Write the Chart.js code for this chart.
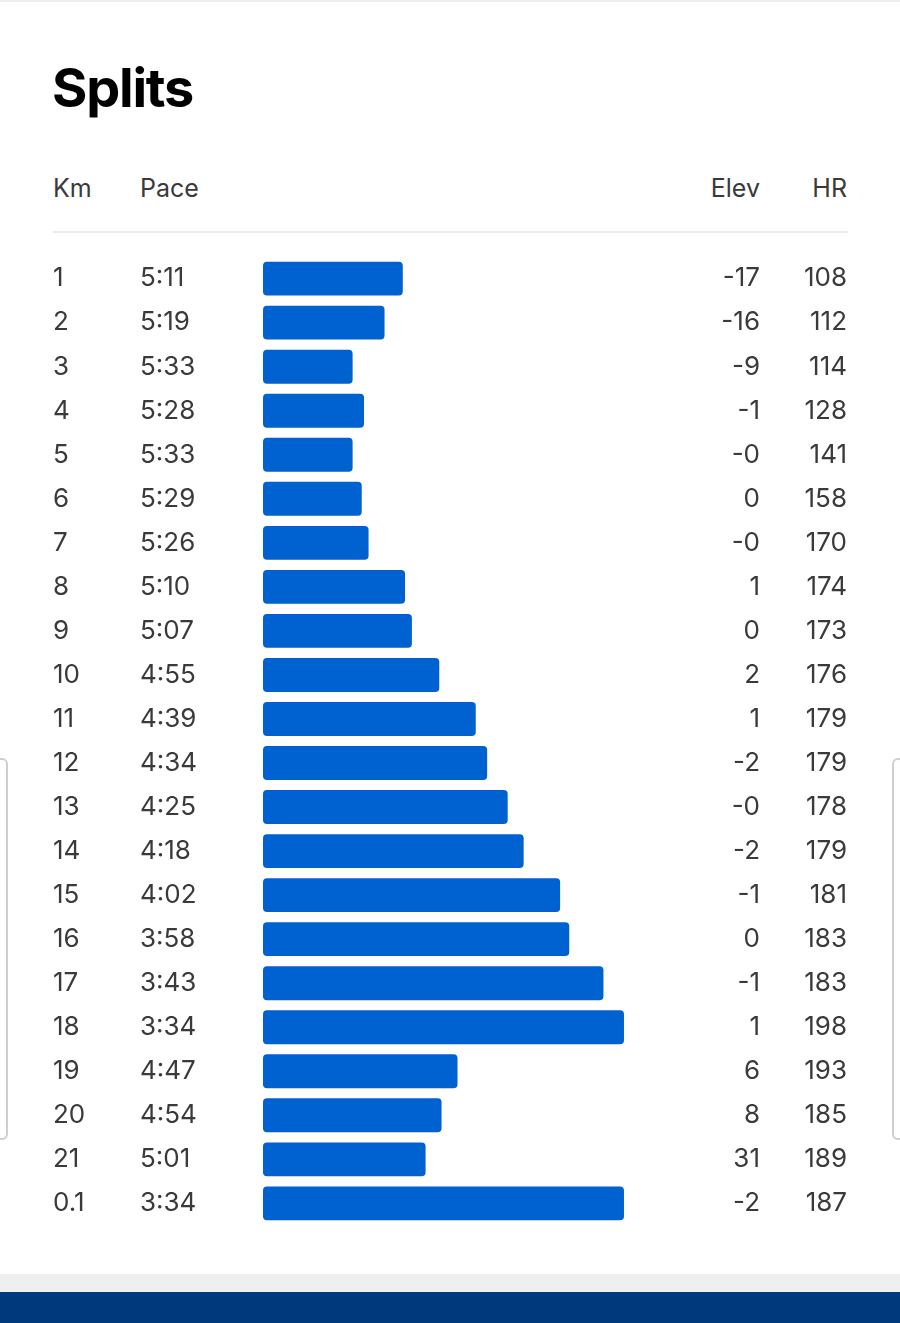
<!DOCTYPE html>
<html>
<head>
<meta charset="utf-8">
<script src="https://cdn.jsdelivr.net/npm/chart.js@4/dist/chart.umd.min.js"></script>
<style>
    body { margin: 0; background: #fff; font-family: Inter, "Noto Sans", sans-serif; }
    #page { position: relative; width: 900px; height: 1323px; overflow: hidden; }
    .topline { position: absolute; left: 0; top: 0; width: 900px; height: 2px; background: #eeeeee; }
    h1 { position: absolute; left: 52px; top: 55px; margin: 0; font-size: 54px; line-height: 66px; font-weight: 700; color: #000; letter-spacing: -1.2px; }
    .hdr { position: absolute; top: 173px; font-size: 25px; line-height: 30px; color: #3a3a3a; }
    .divider { position: absolute; left: 53px; top: 231px; width: 795px; height: 2px; background: #ebebeb; }
    #chartBox { position: absolute; left: 0; top: 241px; width: 900px; height: 1000px; }
    .bracket { position: absolute; top: 758px; height: 378px; width: 14px; border: 2px solid #cfcfcf; border-radius: 6px; }
    .greyband { position: absolute; left: 0; top: 1274px; width: 900px; height: 18px; background: #efefef; }
    .navyband { position: absolute; left: 0; top: 1292px; width: 900px; height: 31px; background: #003a7c; }
</style>
</head>
<body>
<div id="page">
    <div class="topline"></div>
    <h1>Splits</h1>
    <div class="hdr" style="left:53px">Km</div>
    <div class="hdr" style="left:140px">Pace</div>
    <div class="hdr" style="right:140px">Elev</div>
    <div class="hdr" style="right:53px">HR</div>
    <div class="divider"></div>
    <div id="chartBox"><canvas id="splitsChart"></canvas></div>
    <div class="bracket" style="left:-10px"></div>
    <div class="bracket" style="right:-10px"></div>
    <div class="greyband"></div>
    <div class="navyband"></div>
</div>
<script>
const kmLabels = ["1", "2", "3", "4", "5", "6", "7", "8", "9", "10", "11",
    "12", "13", "14", "15", "16", "17", "18", "19", "20", "21", "0.1"];
const paceLabels = ["5:11", "5:19", "5:33", "5:28", "5:33", "5:29", "5:26", "5:10", "5:07", "4:55", "4:39",
    "4:34", "4:25", "4:18", "4:02", "3:58", "3:43", "3:34", "4:47", "4:54", "5:01", "3:34"];
const elevLabels = ["-17", "-16", "-9", "-1", "-0", "0", "-0", "1", "0", "2", "1",
    "-2", "-0", "-2", "-1", "0", "-1", "1", "6", "8", "31", "-2"];
const hrLabels = ["108", "112", "114", "128", "141", "158", "170", "174", "173", "176", "179",
    "179", "178", "179", "181", "183", "183", "198", "193", "185", "189", "187"];

// pace in seconds per km, bars grow as pace gets faster
const paceSeconds = paceLabels.map(p => {
    const [m, s] = p.split(":").map(Number);
    return m * 60 + s;
});

const slowEdge = 372.3;   // pace at the left edge of the bars
const fastEdge = 198.2;   // pace at the right edge of the plot area

const textColor = "#3a3a3a";
const tickFont = { family: "Inter, 'Noto Sans', sans-serif", size: 26 };

function fixedWidth(w) {
    return function(axis) { axis.width = w; };
}

function textAxis(labels, position, weight, width) {
    return {
        type: "category",
        labels: labels,
        position: position,
        weight: weight,
        offset: true,
        afterFit: fixedWidth(width),
        grid: { display: false, drawTicks: false },
        border: { display: false },
        ticks: { color: textColor, font: tickFont, padding: 0, crossAlign: "far", autoSkip: false }
    };
}

document.addEventListener("DOMContentLoaded", () => {
    const ctx = document.getElementById("splitsChart").getContext("2d");
    new Chart(ctx, {
        type: "bar",
        data: {
            labels: kmLabels,
            datasets: [{
                label: "Pace",
                data: paceSeconds,
                base: slowEdge,
                backgroundColor: "#0061d1",
                borderRadius: 4,
                borderSkipped: false,
                barPercentage: 0.77,
                categoryPercentage: 1.0
            }]
        },
        options: {
            indexAxis: "y",
            responsive: true,
            maintainAspectRatio: false,
            animation: false,
            layout: { padding: { left: 53, right: 53, top: 15, bottom: 14 } },
            scales: {
                x: { type: "linear", reverse: true, min: fastEdge, max: slowEdge, display: false },
                y: textAxis(kmLabels, "left", 2, 87),
                yPace: textAxis(paceLabels, "left", 1, 123),
                yElev: textAxis(elevLabels, "right", 1, 100),
                yHr: textAxis(hrLabels, "right", 2, 87)
            },
            plugins: {
                legend: { display: false },
                tooltip: { enabled: false }
            }
        }
    });
});
</script>
</body>
</html>
